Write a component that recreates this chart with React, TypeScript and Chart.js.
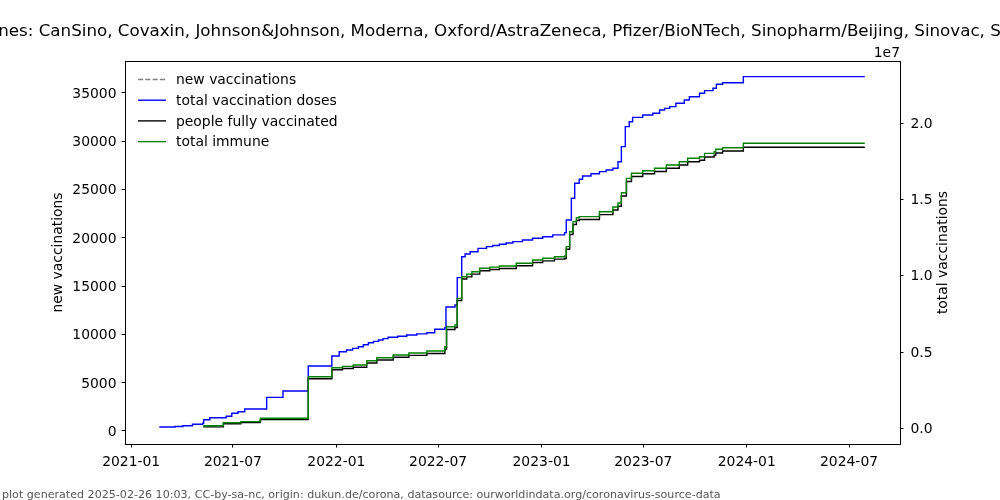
import React, { useEffect, useRef } from "react";
import { Chart, registerables } from "chart.js";

Chart.register(...registerables);

const TITLE =
  "Vaccines: CanSino, Covaxin, Johnson&Johnson, Moderna, Oxford/AstraZeneca, Pfizer/BioNTech, Sinopharm/Beijing, Sinovac, Sputnik V";
const FOOTER =
  "plot generated 2025-02-26 10:03, CC-by-sa-nc, origin: dukun.de/corona, datasource: ourworldindata.org/coronavirus-source-data";
const LEFT_AXIS_TITLE = "new vaccinations";
const RIGHT_AXIS_TITLE = "total vaccinations";
const RIGHT_OFFSET_TEXT = "1e7";

const X_TICKS = ["2021-01", "2021-07", "2022-01", "2022-07", "2023-01", "2023-07", "2024-01", "2024-07"];
const LEFT_TICKS = [0, 5000, 10000, 15000, 20000, 25000, 30000, 35000];
const RIGHT_TICKS = [0, 5000000, 10000000, 15000000, 20000000];
const RIGHT_TICK_LABELS = ["0.0", "0.5", "1.0", "1.5", "2.0"];

const SERIES_LABELS = ["new vaccinations", "total vaccination doses", "people fully vaccinated", "total immune"];

// new vaccinations: no visible values in the reference
const newVaccDates: string[] = [];
const newVaccValues: number[] = [];

const totalDosesDates = [
  "2021-02-20", "2021-03-20", "2021-04-03", "2021-04-20", "2021-05-08", "2021-05-10", "2021-05-21",
  "2021-06-19", "2021-06-29", "2021-07-10", "2021-07-22", "2021-08-30", "2021-09-28", "2021-11-12",
  "2021-12-24", "2022-01-06", "2022-01-19", "2022-01-30", "2022-02-09", "2022-02-18", "2022-02-27",
  "2022-03-08", "2022-03-17", "2022-03-25", "2022-04-03", "2022-04-20", "2022-05-06", "2022-05-24",
  "2022-06-11", "2022-06-25", "2022-07-13", "2022-07-15", "2022-07-31", "2022-08-04",
  "2022-08-12", "2022-08-18", "2022-08-27", "2022-09-10", "2022-09-25", "2022-10-06", "2022-10-18",
  "2022-10-30", "2022-11-11", "2022-11-28", "2022-12-16", "2023-01-03", "2023-01-21", "2023-02-11",
  "2023-02-14", "2023-02-23", "2023-03-01", "2023-03-09", "2023-03-15", "2023-03-30", "2023-04-14",
  "2023-04-26", "2023-05-08", "2023-05-17", "2023-05-23", "2023-05-30", "2023-06-06", "2023-06-12",
  "2023-06-30", "2023-07-18", "2023-07-30", "2023-08-08", "2023-08-17", "2023-08-28", "2023-09-12",
  "2023-09-21", "2023-10-09", "2023-10-18", "2023-11-02", "2023-11-08", "2023-11-19", "2023-12-26",
  "2024-07-29",
];
const totalDosesValues = [
  85000, 115000, 170000, 262000, 330000, 564000, 695000,
  787000, 984000, 1089000, 1266000, 2030000, 2450000, 4080000,
  4740000, 5020000, 5130000, 5240000, 5350000, 5480000, 5610000,
  5700000, 5790000, 5880000, 5970000, 6040000, 6120000, 6190000,
  6270000, 6490000, 6600000, 7950000, 8090000, 9880000,
  11250000, 11430000, 11580000, 11800000, 11910000, 11990000, 12070000,
  12150000, 12240000, 12350000, 12460000, 12560000, 12680000, 12830000,
  13660000, 15080000, 16070000, 16330000, 16540000, 16690000, 16830000,
  16940000, 17050000, 17480000, 18470000, 19780000, 20100000, 20390000,
  20540000, 20660000, 20870000, 20980000, 21090000, 21310000, 21530000,
  21740000, 21970000, 22140000, 22300000, 22560000, 22660000, 23060000,
  23060000,
];

const immuneDates = [
  "2021-05-09", "2021-06-14", "2021-07-15", "2021-08-18", "2021-08-19", "2021-11-12", "2021-12-24",
  "2022-01-12", "2022-01-31", "2022-02-24", "2022-03-14", "2022-04-12", "2022-05-10", "2022-06-11",
  "2022-07-13", "2022-07-16", "2022-07-31", "2022-08-04", "2022-08-12", "2022-08-21", "2022-08-30",
  "2022-09-13", "2022-10-01", "2022-10-18", "2022-11-17", "2022-12-16", "2023-01-03", "2023-01-24",
  "2023-02-11", "2023-02-14", "2023-02-20", "2023-02-26", "2023-03-04", "2023-03-09", "2023-04-14",
  "2023-05-08", "2023-05-17", "2023-05-23", "2023-06-01", "2023-06-10", "2023-06-30", "2023-07-21",
  "2023-08-11", "2023-09-03", "2023-09-18", "2023-10-09", "2023-10-18", "2023-11-04", "2023-11-07",
  "2023-11-19", "2023-12-26", "2024-07-29",
];
const immuneValues = [
  170000, 367000, 440000, 498000, 656000, 3380000, 3970000,
  4060000, 4150000, 4430000, 4630000, 4810000, 4940000, 5070000,
  5350000, 6660000, 6770000, 8520000, 9940000, 10100000, 10270000,
  10490000, 10570000, 10640000, 10820000, 11040000, 11150000, 11250000,
  11300000, 11910000, 12890000, 13550000, 13810000, 13880000, 14200000,
  14510000, 14770000, 15450000, 16390000, 16720000, 16890000, 17050000,
  17270000, 17480000, 17710000, 17810000, 18030000, 18140000, 18300000,
  18400000, 18690000, 18690000,
];

const fullyDates = [
  "2021-05-09", "2021-06-14", "2021-07-15", "2021-08-18", "2021-08-19", "2021-11-12", "2021-12-24",
  "2022-01-12", "2022-01-31", "2022-02-24", "2022-03-14", "2022-04-12", "2022-05-10", "2022-06-11",
  "2022-07-13", "2022-07-16", "2022-07-31", "2022-08-04", "2022-08-12", "2022-08-21", "2022-08-30",
  "2022-09-13", "2022-10-01", "2022-10-18", "2022-11-17", "2022-12-16", "2023-01-03", "2023-01-24",
  "2023-02-11", "2023-02-14", "2023-02-20", "2023-02-26", "2023-03-04", "2023-03-09", "2023-04-14",
  "2023-05-08", "2023-05-17", "2023-05-23", "2023-06-01", "2023-06-10", "2023-06-30", "2023-07-21",
  "2023-08-11", "2023-09-03", "2023-09-18", "2023-10-09", "2023-10-18", "2023-11-04", "2023-11-07",
  "2023-11-19", "2023-12-26", "2024-07-29",
];
const fullyValues = [
  92000, 302000, 370000, 433000, 570000, 3250000, 3840000,
  3920000, 4000000, 4280000, 4480000, 4660000, 4780000, 4900000,
  5190000, 6480000, 6610000, 8380000, 9790000, 9930000, 10110000,
  10330000, 10410000, 10480000, 10660000, 10870000, 10980000, 11090000,
  11130000, 11740000, 12710000, 13360000, 13630000, 13690000, 14010000,
  14310000, 14560000, 15230000, 16180000, 16510000, 16690000, 16840000,
  17050000, 17270000, 17480000, 17580000, 17790000, 17900000, 18050000,
  18180000, 18430000, 18430000,
];

const FONT = "'DejaVu Sans', sans-serif";

function toPoints(dates: string[], values: number[]) {
  return dates.map((d, i) => ({ x: Date.parse(d), y: values[i] }));
}

const decorPlugin = {
  id: "decor",
  beforeDraw(chart: any) {
    const { ctx } = chart;
    ctx.save();
    ctx.fillStyle = "#ffffff";
    ctx.fillRect(0, 0, chart.width, chart.height);
    ctx.restore();
  },
  afterDraw(chart: any) {
    const { ctx, chartArea: a } = chart;
    ctx.save();
    // frame
    ctx.strokeStyle = "#000";
    ctx.lineWidth = 1;
    ctx.strokeRect(a.left + 0.5, a.top + 0.5, a.right - a.left, a.bottom - a.top);

    // title
    ctx.fillStyle = "#000";
    ctx.font = `16.7px ${FONT}`;
    ctx.textAlign = "center";
    ctx.textBaseline = "alphabetic";
    ctx.fillText(TITLE, (a.left + a.right) / 2, 36);

    // offset text
    ctx.font = `13.9px ${FONT}`;
    ctx.textAlign = "right";
    ctx.fillText(RIGHT_OFFSET_TEXT, a.right, 56.5);

    // axis titles
    const midY = (a.top + a.bottom) / 2;
    ctx.textAlign = "center";
    ctx.save();
    ctx.translate(62, midY);
    ctx.rotate(-Math.PI / 2);
    ctx.fillText(LEFT_AXIS_TITLE, 0, 0);
    ctx.restore();
    ctx.save();
    ctx.translate(947, midY);
    ctx.rotate(-Math.PI / 2);
    ctx.fillText(RIGHT_AXIS_TITLE, 0, 0);
    ctx.restore();

    // legend
    const styles = [
      { color: "#808080", dash: [5.1, 2.2] },
      { color: "#0000ff", dash: [] },
      { color: "#000000", dash: [] },
      { color: "#008000", dash: [] },
    ];
    ctx.textAlign = "left";
    ctx.textBaseline = "middle";
    SERIES_LABELS.forEach((label, i) => {
      const y = 79.5 + i * 20.7;
      ctx.beginPath();
      ctx.strokeStyle = styles[i].color;
      ctx.lineWidth = 1.4;
      ctx.setLineDash(styles[i].dash);
      ctx.moveTo(138, y);
      ctx.lineTo(166, y);
      ctx.stroke();
      ctx.setLineDash([]);
      ctx.fillStyle = "#000";
      ctx.fillText(label, 176, y + 1);
    });

    // footer
    ctx.font = `11.1px ${FONT}`;
    ctx.fillStyle = "#555";
    ctx.textAlign = "left";
    ctx.textBaseline = "alphabetic";
    ctx.fillText(FOOTER, 2, 498);
    ctx.restore();
  },
};

export default function App() {
  const canvasRef = useRef<HTMLCanvasElement | null>(null);

  useEffect(() => {
    if (!canvasRef.current) return;
    Chart.defaults.font.family = FONT;
    const tickFont = { family: FONT, size: 13.9 };
    const tickGrid = {
      display: true,
      drawOnChartArea: false,
      drawTicks: true,
      tickLength: 3.5,
      color: "#000",
      lineWidth: 1,
    };
    const chart = new Chart(canvasRef.current, {
      type: "line",
      data: {
        datasets: [
          {
            label: SERIES_LABELS[0],
            data: toPoints(newVaccDates, newVaccValues),
            borderColor: "#808080",
            borderDash: [5.1, 2.2],
            borderWidth: 1.4,
            pointRadius: 0,
            yAxisID: "y",
            order: 4,
          },
          {
            label: SERIES_LABELS[1],
            data: toPoints(totalDosesDates, totalDosesValues),
            borderColor: "#0000ff",
            borderWidth: 1.4,
            pointRadius: 0,
            stepped: "before",
            yAxisID: "y1",
            order: 3,
          },
          {
            label: SERIES_LABELS[2],
            data: toPoints(fullyDates, fullyValues),
            borderColor: "#000000",
            borderWidth: 1.4,
            pointRadius: 0,
            stepped: "before",
            yAxisID: "y1",
            order: 2,
          },
          {
            label: SERIES_LABELS[3],
            data: toPoints(immuneDates, immuneValues),
            borderColor: "#008000",
            borderWidth: 1.4,
            pointRadius: 0,
            stepped: "before",
            yAxisID: "y1",
            order: 1,
          },
        ],
      },
      options: {
        animation: false,
        responsive: false,
        devicePixelRatio: 1,
        layout: { padding: { top: 61, left: 0, right: 0, bottom: 0 } },
        plugins: { legend: { display: false }, title: { display: false }, tooltip: { enabled: false } },
        scales: {
          x: {
            type: "linear",
            position: "bottom",
            min: Date.UTC(2020, 11, 21),
            max: Date.UTC(2024, 8, 29, 16),
            afterBuildTicks: (s: any) => {
              s.ticks = X_TICKS.map((t) => ({ value: Date.parse(t + "-01") }));
            },
            afterFit: (s: any) => {
              s.height = 56;
            },
            ticks: {
              autoSkip: false,
              maxRotation: 0,
              minRotation: 0,
              color: "#000",
              font: tickFont,
              padding: 7,
              callback: (_v: any, i: number) => X_TICKS[i],
            },
            grid: tickGrid,
            border: { display: false },
          },
          y: {
            type: "linear",
            position: "left",
            min: -1345,
            max: 38279,
            afterBuildTicks: (s: any) => {
              s.ticks = LEFT_TICKS.map((v) => ({ value: v }));
            },
            afterFit: (s: any) => {
              s.width = 125;
            },
            ticks: {
              autoSkip: false,
              color: "#000",
              font: tickFont,
              padding: 5,
              labelOffset: 1.5,
              callback: (_v: any, i: number) => String(LEFT_TICKS[i]),
            },
            grid: tickGrid,
            border: { display: false },
          },
          y1: {
            type: "linear",
            position: "right",
            min: -1030000,
            max: 24085000,
            afterBuildTicks: (s: any) => {
              s.ticks = RIGHT_TICKS.map((v) => ({ value: v }));
            },
            afterFit: (s: any) => {
              s.width = 100;
            },
            ticks: {
              autoSkip: false,
              color: "#000",
              font: tickFont,
              padding: 7,
              labelOffset: 1,
              callback: (_v: any, i: number) => RIGHT_TICK_LABELS[i],
            },
            grid: tickGrid,
            border: { display: false },
          },
        },
      },
      plugins: [decorPlugin],
    } as any);
    return () => chart.destroy();
  }, []);

  return (
    <div style={{ position: "fixed", left: 0, top: 0, width: 1000, height: 500, background: "#fff" }}>
      <canvas ref={canvasRef} width={1000} height={500} style={{ display: "block", width: 1000, height: 500 }} />
    </div>
  );
}
